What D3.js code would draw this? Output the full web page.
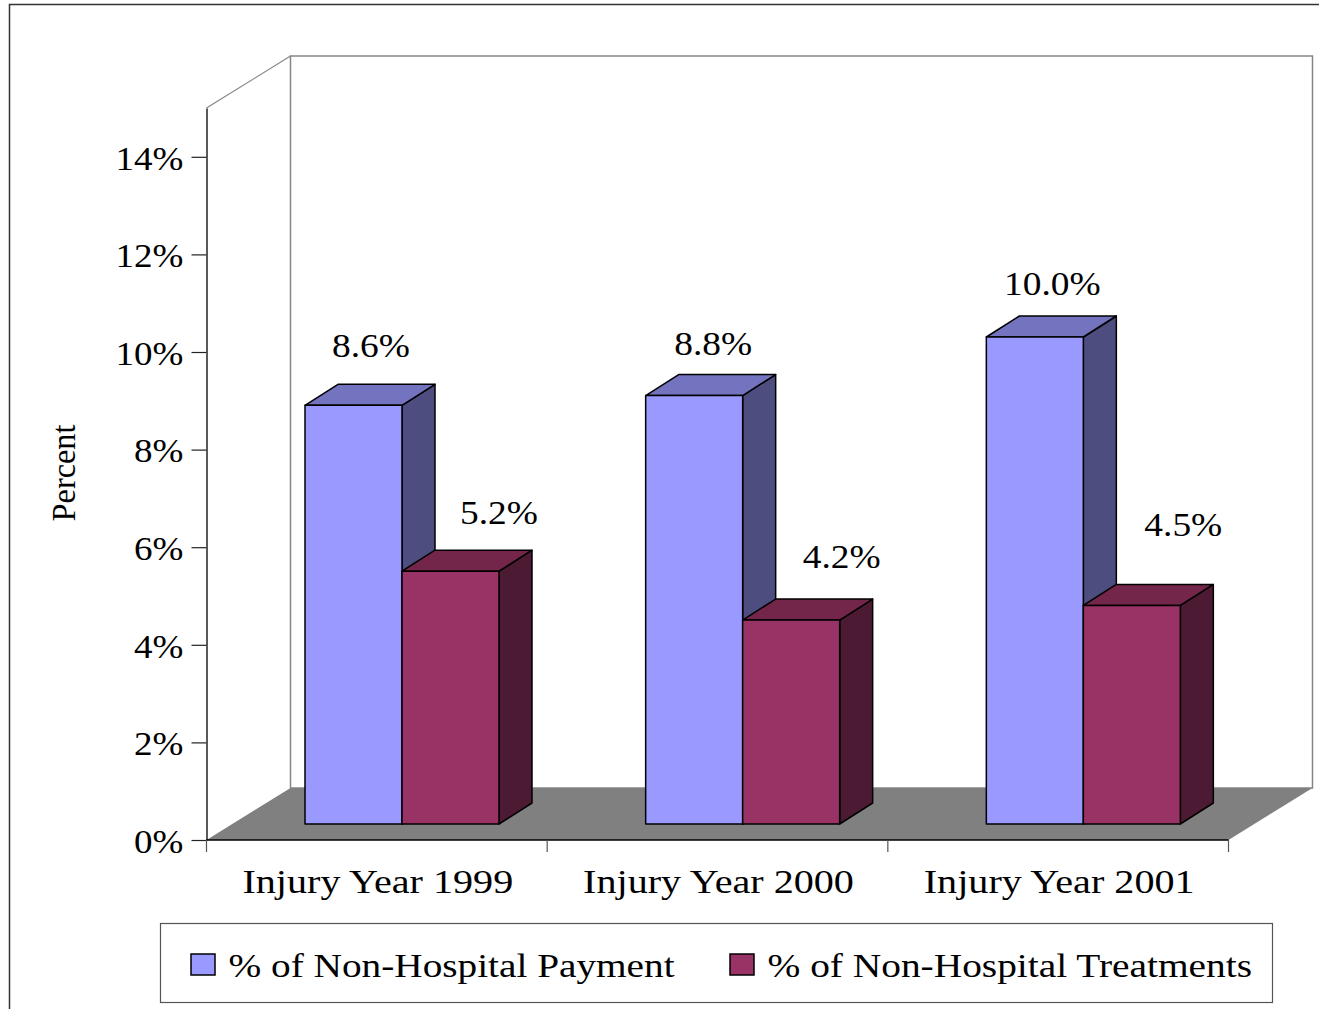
<!DOCTYPE html>
<html>
<head>
<meta charset="utf-8">
<script src="https://d3js.org/d3.v7.min.js"></script>
<style>
  body { margin: 0; background: #fff; }
  svg { display: block; }
  text { font-family: "Liberation Serif", serif; font-size: 34px; fill: #000; }
</style>
</head>
<body>
<div id="chart"></div>
<script>
var categories = ["Injury Year 1999", "Injury Year 2000", "Injury Year 2001"];
var seriesNames = ["% of Non-Hospital Payment", "% of Non-Hospital Treatments"];
var payment = [8.6, 8.8, 10.0];
var treatments = [5.2, 4.2, 4.5];
var yTicks = [0, 2, 4, 6, 8, 10, 12, 14];

var w = 1319, h = 1009;

// depth of the box and of the bars, in pixels
var wallDx = 84, wallDy = -52;
var barDx = 33, barDy = -21;

var colors = [
  {front: "#9999ff", top: "#7373bf", side: "#4d4d80"},
  {front: "#993366", top: "#732649", side: "#4d1a33"}
];

// hand placed data labels in the original, offset from the bar's top front centre
var labelDx = [[17.5, 48.5], [19, 50.5], [17.5, 51.5]];
var labelDy = [[-48, -47], [-41, -52], [-42, -69]];

var vis = d3.select("#chart").append("svg")
  .attr("width", w)
  .attr("height", h);

var x0 = d3.scaleBand().domain(categories).range([206.5, 1228.5]);
var x1 = d3.scaleBand().domain(d3.range(seriesNames.length)).range([98.5, 292.5]);
var y = d3.scaleLinear().domain([0, 15]).range([840, 108]);
var barBase = 824;
var barZero = 825;

function pts(list) {
  return list.map(function(p) { return p.join(","); }).join(" ");
}

// text in the source picture is wider than the font, squeeze or stretch it to fit
function stretch(sel, factor) {
  sel.each(function() {
    var len = this.getComputedTextLength();
    d3.select(this).attr("textLength", len * factor).attr("lengthAdjust", "spacingAndGlyphs");
  });
}

// outer frame, cut off by the picture edge
vis.append("path")
  .attr("d", "M9.5," + h + "V4.5H" + w)
  .attr("fill", "none")
  .attr("stroke", "#333")
  .attr("stroke-width", 1.5);

var x_l = x0.range()[0], x_r = x0.range()[1], y_b = y(0), y_t = y(15);

// walls and floor
vis.append("polygon")
  .attr("points", pts([[x_l + wallDx, y_t + wallDy], [x_r + wallDx, y_t + wallDy], [x_r + wallDx, y_b + wallDy], [x_l + wallDx, y_b + wallDy]]))
  .attr("fill", "#fff")
  .attr("stroke", "#868686")
  .attr("stroke-width", 1.5);

vis.append("line")
  .attr("x1", x_l).attr("y1", y_t)
  .attr("x2", x_l + wallDx).attr("y2", y_t + wallDy)
  .attr("stroke", "#868686")
  .attr("stroke-width", 1.2);

vis.append("polygon")
  .attr("points", pts([[x_l, y_b], [x_l + wallDx, y_b + wallDy], [x_r + wallDx, y_b + wallDy], [x_r, y_b]]))
  .attr("fill", "#808080");

// axes
var yAxis = d3.axisLeft(y)
  .tickValues(yTicks)
  .tickSizeInner(15)
  .tickSizeOuter(0)
  .tickFormat(function(d) { return d + "%"; });
var gy = vis.append("g").attr("transform", "translate(" + x_l + ",0)").call(yAxis);
gy.attr("font-size", null).attr("font-family", null);
gy.select(".domain").attr("stroke", "#000").attr("stroke-width", 1.3);
gy.selectAll(".tick line").attr("stroke", "#222").attr("stroke-width", 1.2);
gy.selectAll(".tick text")
  .attr("x", -23)
  .attr("dy", "0.36em")
  .attr("text-anchor", "end");
stretch(gy.selectAll(".tick text"), 1.09);

vis.append("line")
  .attr("x1", x_l).attr("y1", y_b)
  .attr("x2", x_r).attr("y2", y_b)
  .attr("stroke", "#000")
  .attr("stroke-width", 1.6);

var xEdges = categories.map(function(c) { return x0(c); }).concat([x_r]);
vis.selectAll(".xtick")
  .data(xEdges)
  .enter()
  .append("line")
  .attr("class", "xtick")
  .attr("x1", function(d) { return d; })
  .attr("x2", function(d) { return d; })
  .attr("y1", y_b)
  .attr("y2", y_b + 12)
  .attr("stroke", "#555")
  .attr("stroke-width", 1.2);

var catLabels = vis.selectAll(".cat")
  .data(categories)
  .enter()
  .append("text")
  .attr("class", "cat")
  .attr("x", function(d) { return x0(d) + x0.bandwidth() / 2 + 1; })
  .attr("y", 893)
  .attr("text-anchor", "middle")
  .text(function(d) { return d; });
stretch(catLabels, 1.18);

var yTitle = vis.append("text")
  .attr("transform", "translate(75,473) rotate(-90)")
  .attr("text-anchor", "middle")
  .text("Percent");
stretch(yTitle, 0.95);

// bars, drawn left to right so the later ones overlap the earlier side faces
var values = [payment, treatments];
var bars = [];
categories.forEach(function(c, i) {
  values.forEach(function(v, s) {
    bars.push({cat: c, i: i, s: s, value: v[i]});
  });
});

var gBar = vis.selectAll("g.bar")
  .data(bars)
  .enter()
  .append("g")
  .classed("bar", true)
  .attr("stroke", "#000")
  .attr("stroke-width", 1.5)
  .attr("stroke-linejoin", "round");

function barLeft(d) { return x0(d.cat) + x1(d.s); }
function barRight(d) { return barLeft(d) + x1.bandwidth(); }
function barTop(d) { return barZero - (y(0) - y(d.value)); }

gBar.append("polygon")
  .attr("fill", function(d) { return colors[d.s].side; })
  .attr("points", function(d) {
    return pts([[barRight(d), barBase], [barRight(d) + barDx, barBase + barDy], [barRight(d) + barDx, barTop(d) + barDy], [barRight(d), barTop(d)]]);
  });

gBar.append("polygon")
  .attr("fill", function(d) { return colors[d.s].top; })
  .attr("points", function(d) {
    return pts([[barLeft(d), barTop(d)], [barLeft(d) + barDx, barTop(d) + barDy], [barRight(d) + barDx, barTop(d) + barDy], [barRight(d), barTop(d)]]);
  });

gBar.append("rect")
  .attr("fill", function(d) { return colors[d.s].front; })
  .attr("x", barLeft)
  .attr("y", barTop)
  .attr("width", x1.bandwidth())
  .attr("height", function(d) { return barBase - barTop(d); });

var valueLabels = vis.selectAll(".val")
  .data(bars)
  .enter()
  .append("text")
  .attr("class", "val")
  .attr("x", function(d) { return (barLeft(d) + barRight(d)) / 2 + labelDx[d.i][d.s]; })
  .attr("y", function(d) { return barTop(d) + labelDy[d.i][d.s]; })
  .attr("text-anchor", "middle")
  .text(function(d) { return d.value.toFixed(1) + "%"; });
stretch(valueLabels, 1.1);

// legend
vis.append("rect")
  .attr("x", 160.5).attr("y", 923.5)
  .attr("width", 1112).attr("height", 79)
  .attr("fill", "#fff")
  .attr("stroke", "#555")
  .attr("stroke-width", 1.2);

var legendX = d3.scaleOrdinal().domain(seriesNames).range([191, 730]);
var legendStretch = [1.155, 1.158];

var lg = vis.selectAll(".legend")
  .data(seriesNames)
  .enter()
  .append("g")
  .attr("class", "legend")
  .attr("transform", function(d) { return "translate(" + legendX(d) + ",954)"; });

lg.append("rect")
  .attr("width", 24)
  .attr("height", 21)
  .attr("fill", function(d, i) { return colors[i].front; })
  .attr("stroke", "#000")
  .attr("stroke-width", 1.5);

lg.append("text")
  .attr("x", 37.5)
  .attr("y", 23)
  .text(function(d) { return d; })
  .each(function(d, i) {
    stretch(d3.select(this), legendStretch[i]);
  });
</script>
</body>
</html>
